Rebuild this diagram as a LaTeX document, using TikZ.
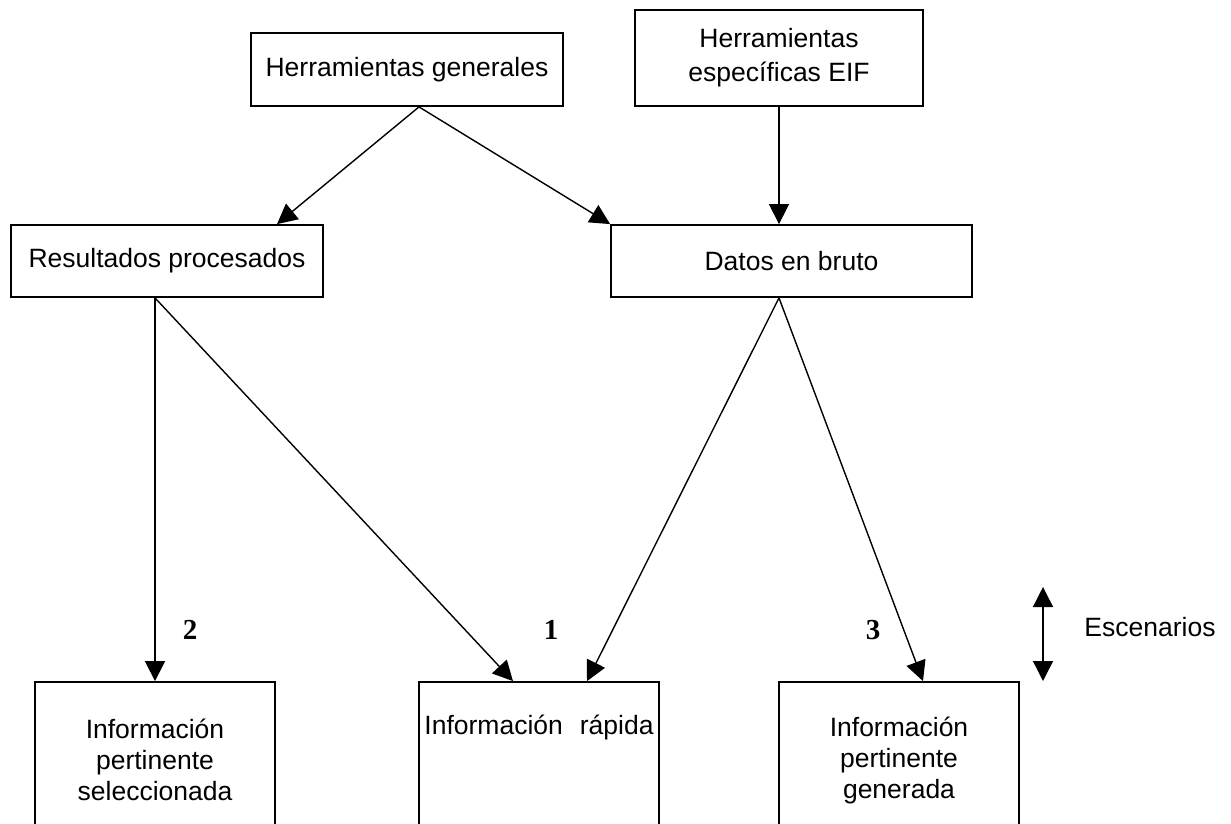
\documentclass[tikz,border=0pt]{standalone}
\usepackage{fontspec}
\setmainfont{Liberation Sans}
\newfontfamily\numfont{Liberation Serif}
\usetikzlibrary{arrows.meta,calc}
\begin{document}
\begin{tikzpicture}[x=1pt,y=-1pt,
  box/.style={draw, line width=1.8pt, inner sep=0pt, align=center, font=\fontsize{26.5}{31}\selectfont},
  arr/.style={line width=1.4pt, -{Triangle[length=20pt,width=20pt]}},
  darr/.style={line width=1.4pt, {Triangle[length=20pt,width=20pt]}-{Triangle[length=20pt,width=20pt]}},
  num/.style={font=\numfont\bfseries\fontsize{29}{30}\selectfont},
  lbl/.style={font=\fontsize{26.5}{31}\selectfont}]
\useasboundingbox (0,0) rectangle (1231,824);
\clip (0,0) rectangle (1231,824);
\node[box, minimum width=312, minimum height=73] (hg) at (407,69.5) {Herramientas generales};
\node[box, minimum width=288, minimum height=96, font=\fontsize{26.5}{34}\selectfont] (he) at (779,58) {Herramientas\\específicas EIF};
\node[box, minimum width=312, minimum height=72] (res) at (167,261) {Resultados procesados};
\node[box, minimum width=361, minimum height=72] (dat) at (791.5,261) {Datos en bruto};
\node[box, minimum width=240, minimum height=156] (sel) at (155,760) {Información\\pertinente\\seleccionada};
\node[box, minimum width=240, minimum height=156] (rap) at (539,760) {Información\hspace{17pt}rápida\\\strut\\\strut};
\node[box, minimum width=240, minimum height=156] (gen) at (899,760) {Información\\pertinente\\generada};
\draw[arr] ([xshift=12]hg.south) -- ([xshift=110]res.north);
\draw[arr] ([xshift=12]hg.south) -- (dat.north west);
\draw[arr] (he.south) -- (he.south |- dat.north);
\draw[arr] ([xshift=-12]res.south) -- (sel.north);
\draw[arr] ([xshift=-12]res.south) -- ([xshift=-26]rap.north);
\draw[arr] ([xshift=-12.5]dat.south) -- ([xshift=48]rap.north);
\draw[arr] ([xshift=-12.5]dat.south) -- ([xshift=24]gen.north);
\node[num] (n2) at (190,630) {2};
\node[num] (n1) at (551,630) {1};
\node[num] (n3) at (873,630) {3};
\coordinate (s1) at (1043,587);
\coordinate (s2) at (1043,681);
\draw[darr] (s1) -- (s2);
\node[lbl] (esc) at (1150,627) {Escenarios};
\end{tikzpicture}
\end{document}
